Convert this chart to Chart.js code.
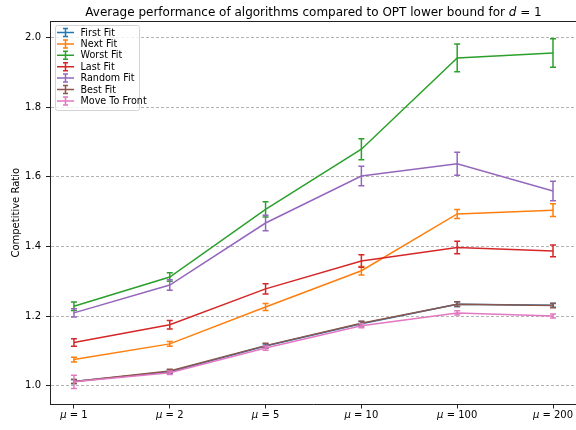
<!DOCTYPE html>
<html>
<head>
<meta charset="utf-8">
<script src="https://cdn.jsdelivr.net/npm/chart.js@4/dist/chart.umd.min.js"></script>
<style>
  html, body { margin: 0; padding: 0; background: #fff; overflow: hidden; }
  #wrap { width: 576px; height: 430px; }
</style>
</head>
<body>
<div id="wrap"><canvas id="c" width="576" height="430"></canvas></div>
<script>
// --- datos ---
const categorias = ['1', '2', '5', '10', '100', '200'];
const nombres = ['First Fit', 'Next Fit', 'Worst Fit', 'Last Fit', 'Random Fit', 'Best Fit', 'Move To Front'];
const colores = ['#1f77b4', '#ff7f0e', '#2ca02c', '#d62728', '#9467bd', '#8c564b', '#e377c2'];

const firstFit     = [1.012, 1.040, 1.114, 1.178, 1.234, 1.231];
const firstFitErr  = [0.006, 0.005, 0.006, 0.006, 0.007, 0.006];
const nextFit      = [1.075, 1.120, 1.226, 1.330, 1.493, 1.504];
const nextFitErr   = [0.007, 0.007, 0.010, 0.012, 0.013, 0.018];
const worstFit     = [1.228, 1.312, 1.506, 1.679, 1.941, 1.955];
const worstFitErr  = [0.012, 0.012, 0.022, 0.030, 0.040, 0.041];
const lastFit      = [1.124, 1.175, 1.278, 1.358, 1.397, 1.387];
const lastFitErr   = [0.011, 0.012, 0.015, 0.018, 0.018, 0.017];
const randomFit    = [1.209, 1.289, 1.467, 1.602, 1.637, 1.559];
const randomFitErr = [0.012, 0.015, 0.022, 0.028, 0.033, 0.028];
const bestFit      = [1.012, 1.042, 1.115, 1.179, 1.234, 1.230];
const bestFitErr   = [0.006, 0.005, 0.007, 0.006, 0.007, 0.006];
const mtf          = [1.011, 1.037, 1.108, 1.172, 1.209, 1.200];
const mtfErr       = [0.019, 0.005, 0.006, 0.006, 0.006, 0.006];

const yTicks = [1.0, 1.2, 1.4, 1.6, 1.8, 2.0];

const series = [firstFit, nextFit, worstFit, lastFit, randomFit, bestFit, mtf];
const errores = [firstFitErr, nextFitErr, worstFitErr, lastFitErr, randomFitErr, bestFitErr, mtfErr];

const FUENTE = '"DejaVu Sans", sans-serif';

// --- plugin: barras de error, marco, título, etiquetas y leyenda ---
const extras = {
  id: 'extras',
  afterDatasetDraw(chart, args) {
    const i = args.index;
    const ctx = chart.ctx;
    const xs = chart.scales.x, ys = chart.scales.y;
    ctx.save();
    ctx.strokeStyle = colores[i];
    ctx.lineWidth = 1.5;
    series[i].forEach((v, k) => {
      const px = xs.getPixelForValue(k);
      const y1 = ys.getPixelForValue(v - errores[i][k]);
      const y2 = ys.getPixelForValue(v + errores[i][k]);
      ctx.beginPath();
      ctx.moveTo(px, y1); ctx.lineTo(px, y2);
      ctx.moveTo(px - 3, y1); ctx.lineTo(px + 3, y1);
      ctx.moveTo(px - 3, y2); ctx.lineTo(px + 3, y2);
      ctx.stroke();
    });
    ctx.restore();
  },
  afterDraw(chart) {
    const ctx = chart.ctx;
    const a = chart.chartArea;
    const xs = chart.scales.x;
    ctx.save();

    // marco superior
    ctx.strokeStyle = '#222';
    ctx.lineWidth = 1;
    ctx.beginPath();
    ctx.moveTo(a.left, a.top + 0.5); ctx.lineTo(a.right, a.top + 0.5);
    ctx.stroke();

    // título con d en cursiva
    const t1 = 'Average performance of algorithms compared to OPT lower bound for ';
    const t2 = 'd';
    const t3 = ' = 1';
    ctx.fillStyle = '#000';
    ctx.textBaseline = 'alphabetic';
    ctx.font = '12px ' + FUENTE;
    const w1 = ctx.measureText(t1).width, w3 = ctx.measureText(t3).width;
    ctx.font = 'italic 12px ' + FUENTE;
    const w2 = ctx.measureText(t2).width;
    const axCentro = (a.left + 577) / 2;
    let tx = axCentro - (w1 + w2 + w3) / 2;
    const ty = 16;
    ctx.textAlign = 'left';
    ctx.font = '12px ' + FUENTE;
    ctx.fillText(t1, tx, ty); tx += w1;
    ctx.font = 'italic 12px ' + FUENTE;
    ctx.fillText(t2, tx, ty); tx += w2;
    ctx.font = '12px ' + FUENTE;
    ctx.fillText(t3, tx, ty);

    // etiquetas eje x: μ = n
    categorias.forEach((c, k) => {
      const px = xs.getPixelForValue(k);
      const resto = ' = ' + c;
      ctx.font = 'italic 10px ' + FUENTE;
      const wm = ctx.measureText('μ').width;
      ctx.font = '10px ' + FUENTE;
      const wr = ctx.measureText(resto).width;
      let lx = px - (wm + wr) / 2;
      const ly = 418;
      ctx.font = 'italic 10px ' + FUENTE;
      ctx.fillText('μ', lx, ly);
      ctx.font = '10px ' + FUENTE;
      ctx.fillText(resto, lx + wm, ly);
    });

    // leyenda
    const lx0 = 55, ly0 = 25, lw = 84, lh = 85;
    ctx.fillStyle = 'rgba(255,255,255,0.8)';
    ctx.strokeStyle = '#d4d4d4';
    ctx.lineWidth = 1;
    ctx.beginPath();
    ctx.roundRect(lx0 + 0.5, ly0 + 0.5, lw, lh, 2);
    ctx.fill(); ctx.stroke();
    ctx.font = '9.6px ' + FUENTE;
    ctx.textBaseline = 'middle';
    nombres.forEach((n, k) => {
      const yy = 32.5 + k * 11.4;
      ctx.strokeStyle = colores[k];
      ctx.lineWidth = 1.5;
      ctx.beginPath();
      ctx.moveTo(57, yy); ctx.lineTo(74, yy);
      ctx.moveTo(65.5, yy - 4); ctx.lineTo(65.5, yy + 4);
      ctx.moveTo(63, yy - 4); ctx.lineTo(68, yy - 4);
      ctx.moveTo(63, yy + 4); ctx.lineTo(68, yy + 4);
      ctx.stroke();
      ctx.fillStyle = '#000';
      ctx.fillText(n, 80.5, yy + 0.5);
    });
    ctx.restore();
  }
};

const datasets = nombres.map((n, i) => ({
  label: n,
  data: series[i].map((v, k) => ({ x: k, y: v })),
  borderColor: colores[i],
  backgroundColor: colores[i],
  borderWidth: 1.5,
  pointRadius: 0,
  tension: 0,
  order: nombres.length - i
}));

new Chart(document.getElementById('c'), {
  type: 'line',
  data: { datasets },
  options: {
    responsive: false,
    animation: false,
    events: [],
    layout: { padding: { top: 21, right: 0, left: 0, bottom: 0 } },
    plugins: { legend: { display: false }, tooltip: { enabled: false }, title: { display: false } },
    scales: {
      x: {
        type: 'linear',
        min: -0.25,
        max: 5.24,
        afterBuildTicks: s => { s.ticks = categorias.map((c, k) => ({ value: k })); },
        afterFit: s => { s.height = 25.5; },
        ticks: { callback: () => '', font: { size: 10 } },
        grid: { drawOnChartArea: false, drawTicks: true, tickLength: 4, tickColor: '#222', tickWidth: 1 },
        border: { display: true, color: '#222', width: 1 }
      },
      y: {
        min: 0.946,
        max: 2.047,
        afterBuildTicks: s => { s.ticks = yTicks.map(v => ({ value: v })); },
        afterFit: s => { s.width = 50; },
        ticks: {
          callback: v => v.toFixed(1),
          color: '#000',
          padding: 5,
          font: { family: FUENTE, size: 10 }
        },
        title: {
          display: true,
          text: 'Competitive Ratio',
          color: '#000',
          font: { family: FUENTE, size: 10 },
          padding: { top: 10, bottom: 3 }
        },
        grid: {
          color: 'rgba(128,128,128,0.75)',
          lineWidth: 0.8,
          drawTicks: true,
          tickLength: 4,
          tickColor: '#222',
          tickWidth: 1,
          tickBorderDash: []
        },
        border: { display: true, color: '#222', width: 1, dash: [3, 2] }
      }
    }
  },
  plugins: [extras]
});
</script>
</body>
</html>
